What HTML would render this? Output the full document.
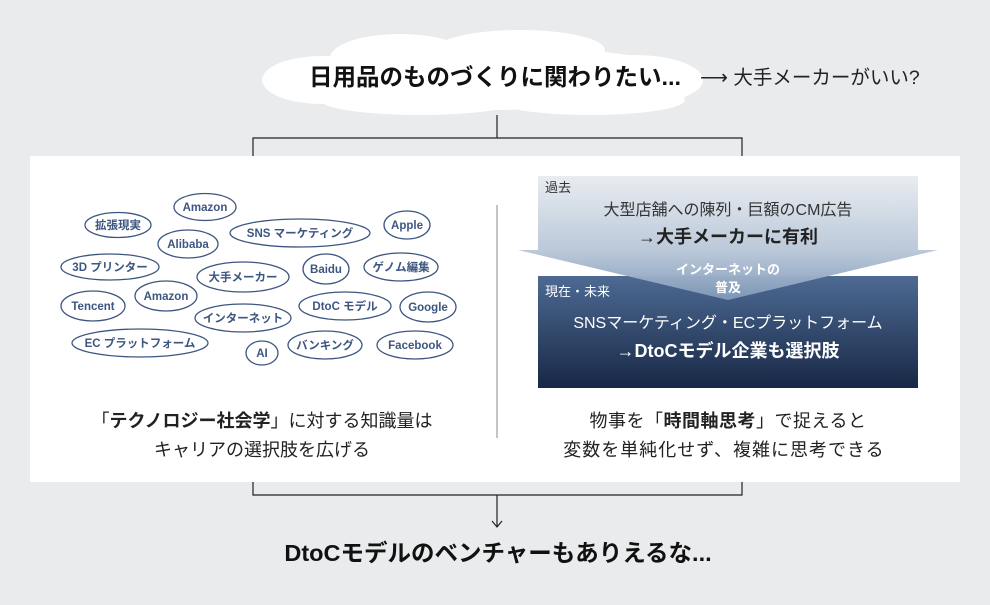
<!DOCTYPE html>
<html><head><meta charset="utf-8"><style>
body{margin:0;width:990px;height:600px;background:#e9ebec;overflow:hidden;font-family:"Liberation Sans","Noto Sans CJK JP",sans-serif}
</style></head><body>
<svg width="990" height="600" viewBox="0 0 990 600" xmlns="http://www.w3.org/2000/svg" style="font-family:'Liberation Sans','Noto Sans CJK JP',sans-serif">
<defs>
<linearGradient id="g1" x1="0" y1="0" x2="0" y2="1"><stop offset="0" stop-color="#e8ecf1"/><stop offset="0.6" stop-color="#b9c7d8"/><stop offset="1" stop-color="#7f98b8"/></linearGradient>
<linearGradient id="g2" x1="0" y1="0" x2="0" y2="1"><stop offset="0" stop-color="#4d6a93"/><stop offset="1" stop-color="#182846"/></linearGradient>
</defs>
<!-- cloud -->
<g fill="#fff">
<ellipse cx="485" cy="78" rx="205" ry="32"/>
<ellipse cx="322" cy="80" rx="60" ry="24"/>
<ellipse cx="635" cy="80" rx="68" ry="25"/>
<ellipse cx="400" cy="58" rx="70" ry="24"/>
<ellipse cx="520" cy="50" rx="85" ry="20"/>
<ellipse cx="420" cy="100" rx="100" ry="15"/>
<ellipse cx="590" cy="100" rx="95" ry="15"/>
</g>
<text x="495" y="85" text-anchor="middle" font-size="23.5" font-weight="bold" fill="#111">日用品のものづくりに関わりたい...</text>
<text x="700" y="84" font-size="19.5" fill="#222">⟶ 大手メーカーがいい?</text>
<!-- connectors -->
<g stroke="#222" stroke-width="1.2" fill="none">
<path d="M497 115V138M253 156V138H742V156"/>
<path d="M253 482V495H742V482M497 495V527"/>
<path d="M492 521L497 527L502 521"/>
</g>
<rect x="30" y="156" width="930" height="326" fill="#fff"/>
<line x1="497" y1="205" x2="497" y2="438" stroke="#888" stroke-width="1"/>
<!-- ellipses -->
<g fill="none" stroke="#3d5680" stroke-width="1.3">
<ellipse cx="118" cy="225" rx="33" ry="12.5"/>
<ellipse cx="205" cy="207" rx="31" ry="13.5"/>
<ellipse cx="407" cy="225" rx="23" ry="14"/>
<ellipse cx="300" cy="233" rx="70" ry="14"/>
<ellipse cx="188" cy="244" rx="30" ry="14"/>
<ellipse cx="110" cy="267" rx="49" ry="13"/>
<ellipse cx="243" cy="277" rx="46" ry="15"/>
<ellipse cx="326" cy="269" rx="23" ry="15"/>
<ellipse cx="401" cy="267" rx="37" ry="14"/>
<ellipse cx="93" cy="306" rx="32" ry="15"/>
<ellipse cx="166" cy="296" rx="31" ry="15"/>
<ellipse cx="345" cy="306" rx="46" ry="14"/>
<ellipse cx="428" cy="307" rx="28" ry="15"/>
<ellipse cx="243" cy="318" rx="48" ry="14"/>
<ellipse cx="140" cy="343" rx="68" ry="14"/>
<ellipse cx="262" cy="353" rx="16" ry="12"/>
<ellipse cx="325" cy="345" rx="37" ry="14"/>
<ellipse cx="415" cy="345" rx="38" ry="14"/>
</g>
<g fill="#3d5680" font-size="11.5" font-weight="bold" text-anchor="middle">
<text x="118" y="229">拡張現実</text>
<text x="205" y="211">Amazon</text>
<text x="407" y="229">Apple</text>
<text x="300" y="237">SNS マーケティング</text>
<text x="188" y="248">Alibaba</text>
<text x="110" y="271">3D プリンター</text>
<text x="243" y="281">大手メーカー</text>
<text x="326" y="273">Baidu</text>
<text x="401" y="271">ゲノム編集</text>
<text x="93" y="310">Tencent</text>
<text x="166" y="300">Amazon</text>
<text x="345" y="310">DtoC モデル</text>
<text x="428" y="311">Google</text>
<text x="243" y="322">インターネット</text>
<text x="140" y="347">EC プラットフォーム</text>
<text x="262" y="357">AI</text>
<text x="325" y="349">バンキング</text>
<text x="415" y="349">Facebook</text>
</g>
<!-- right diagram -->
<rect x="538" y="276" width="380" height="112" fill="url(#g2)"/>
<path d="M538 176H918V250H938L728 300L518 250H538Z" fill="url(#g1)" opacity="0.97"/>
<text x="545" y="192" font-size="13" fill="#333">過去</text>
<text x="728" y="215" text-anchor="middle" font-size="16" fill="#333">大型店舗への陳列・巨額のCM広告</text>
<text x="728" y="243" text-anchor="middle" font-size="18" font-weight="bold" fill="#222">→大手メーカーに有利</text>
<text x="728" y="274" text-anchor="middle" font-size="13" font-weight="bold" fill="#fff">インターネットの</text>
<text x="728" y="292" text-anchor="middle" font-size="13" font-weight="bold" fill="#fff">普及</text>
<text x="545" y="296" font-size="13" fill="#fff">現在・未来</text>
<text x="728" y="328" text-anchor="middle" font-size="16" fill="#fff">SNSマーケティング・ECプラットフォーム</text>
<text x="728" y="357" text-anchor="middle" font-size="18" font-weight="bold" fill="#fff">→DtoCモデル企業も選択肢</text>
<!-- captions -->
<g font-size="18" fill="#222" text-anchor="middle">
<text x="262" y="427">「<tspan font-weight="bold">テクノロジー社会学</tspan>」に対する知識量は</text>
<text x="262" y="456">キャリアの選択肢を広げる</text>
<text x="728" y="427" letter-spacing="0.5">物事を「<tspan font-weight="bold">時間軸思考</tspan>」で捉えると</text>
<text x="724" y="456" letter-spacing="1">変数を単純化せず、複雑に思考できる</text>
</g>
<text x="498" y="561" text-anchor="middle" font-size="23.5" font-weight="bold" fill="#111">DtoCモデルのベンチャーもありえるな...</text>
</svg>
</body></html>
